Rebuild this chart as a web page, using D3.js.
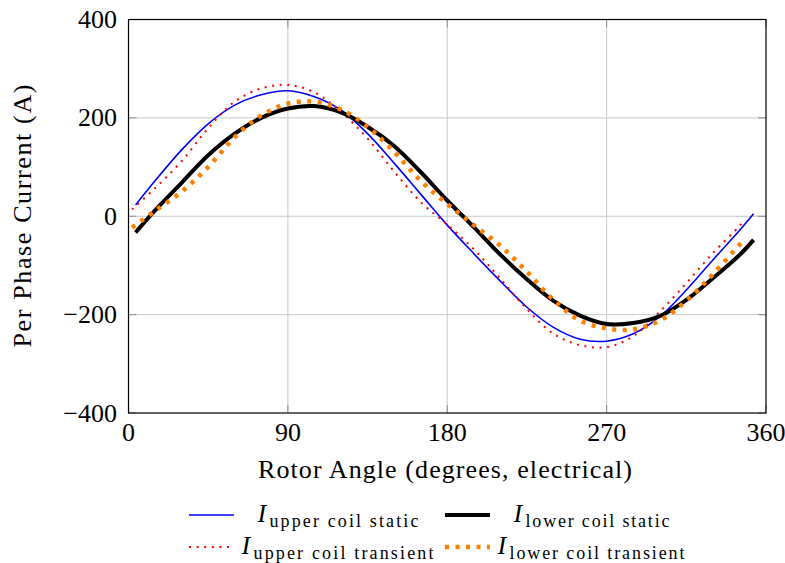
<!DOCTYPE html>
<html><head><meta charset="utf-8">
<script src="https://cdn.jsdelivr.net/npm/d3@7/dist/d3.min.js"></script>
<style>
body{margin:0;background:#fff}
svg{display:block}
</style>
</head><body>
<svg id="chart" width="785" height="563"></svg>
<script>
// ---- data ----
const staticAngles    = [4,15,30,45,60,75,90,105,120,135,150,165,180,195,210,225,240,255,270,285,300,315,330,345,353];
const upperStatic     = [23,72,135,188,226,247,255,243,216,168,108,45,-18,-76,-132,-185,-226,-250,-254,-239,-204,-150,-89,-29,5];
const lowerStatic     = [-33,12,68,124,168,200,219,224,211,182,143,90,32,-22,-78,-128,-172,-202,-219,-217,-203,-170,-126,-79,-48];
const transientAngles = [2,15,30,45,60,75,90,105,120,135,150,165,180,195,210,225,240,255,270,285,300,315,330,345,347];
const upperTransient  = [14,57,112,179,233,260,267,252,212,158,91,29,-17,-67,-127,-189,-239,-262,-266,-244,-194,-136,-75,-20,-11];
const lowerTransient  = [-23,11,50,100,161,205,229,233,217,182,131,72,25,-18,-60,-113,-170,-212,-228,-230,-212,-172,-118,-58,-51];
const xTicks = [0,90,180,270,360];
const yTicks = [-400,-200,0,200,400];
const seriesNames = ["upper coil static","lower coil static","upper coil transient","lower coil transient"];

const FONT = "'Liberation Serif', 'DejaVu Serif', serif";

const series = [
  {name: seriesNames[0], xs: staticAngles, ys: upperStatic, color: "#0000ff", width: 1.6, dash: null},
  {name: seriesNames[2], xs: transientAngles, ys: upperTransient, color: "#ff0000", width: 2, dash: "2,5.6"},
  {name: seriesNames[1], xs: staticAngles, ys: lowerStatic, color: "#000000", width: 4, dash: null},
  {name: seriesNames[3], xs: transientAngles, ys: lowerTransient, color: "#ff8000", width: 4.5, dash: "4,6.5"}
];

const svg = d3.select("#chart");
const L = 128.5, R = 766, T = 19.5, B = 413;
const x = d3.scaleLinear().domain([0,360]).range([L,R]);
const y = d3.scaleLinear().domain([-400,400]).range([B,T]);

// grid
const g = svg.append("g");
g.selectAll("line.gx").data(xTicks.slice(1,-1)).join("line")
  .attr("x1", d=>x(d)).attr("x2", d=>x(d)).attr("y1", T).attr("y2", B)
  .attr("stroke", "#c8c8c8").attr("stroke-width", 1);
g.selectAll("line.gy").data(yTicks.slice(1,-1)).join("line")
  .attr("y1", d=>y(d)).attr("y2", d=>y(d)).attr("x1", L).attr("x2", R)
  .attr("stroke", "#c8c8c8").attr("stroke-width", 1);
// ticks (inward, both sides)
const tk = 8;
g.selectAll("line.ty").data(yTicks).join("line")
  .attr("y1", d=>y(d)).attr("y2", d=>y(d)).attr("x1", L).attr("x2", L+tk)
  .attr("stroke", "#8c8c8c");
g.selectAll("line.ty2").data(yTicks).join("line")
  .attr("y1", d=>y(d)).attr("y2", d=>y(d)).attr("x1", R-tk).attr("x2", R)
  .attr("stroke", "#8c8c8c");
g.selectAll("line.tx").data(xTicks).join("line")
  .attr("x1", d=>x(d)).attr("x2", d=>x(d)).attr("y1", B).attr("y2", B-tk)
  .attr("stroke", "#8c8c8c");
g.selectAll("line.tx2").data(xTicks).join("line")
  .attr("x1", d=>x(d)).attr("x2", d=>x(d)).attr("y1", T).attr("y2", T+tk)
  .attr("stroke", "#8c8c8c");

// curves
const line = d3.line().x(d=>x(d[0])).y(d=>y(d[1])).curve(d3.curveCatmullRom.alpha(0.5));
const plot = svg.append("g");
series.forEach(s => {
  const pts = s.xs.map((a,i)=>[a, s.ys[i]]);
  const p = plot.append("path").datum(pts).attr("d", line)
    .attr("fill","none").attr("stroke", s.color).attr("stroke-width", s.width)
    .attr("stroke-linejoin","round");
  if (s.dash) p.attr("stroke-dasharray", s.dash);
});

// frame
svg.append("rect").attr("x", L).attr("y", T).attr("width", R-L).attr("height", B-T)
  .attr("fill","none").attr("stroke","#000").attr("stroke-width",1.2);

// tick labels
const fmt = d3.format("d");
svg.selectAll("text.yl").data(yTicks).join("text")
  .attr("font-family", FONT)
  .attr("x", 117).attr("y", d=>y(d)+8.5).attr("text-anchor","end")
  .attr("font-size", 26).text(d=>fmt(d));
svg.selectAll("text.xl").data(xTicks).join("text")
  .attr("font-family", FONT)
  .attr("x", d=>x(d)).attr("y", 441).attr("text-anchor","middle")
  .attr("font-size", 26).text(d=>fmt(d));

// axis titles
svg.append("text").attr("font-family", FONT).attr("x", 445).attr("y", 478).attr("text-anchor","middle")
  .attr("font-size", 26).attr("textLength", 374).attr("lengthAdjust","spacing")
  .text("Rotor Angle (degrees, electrical)");
svg.append("text").attr("font-family", FONT).attr("transform","translate(31,216) rotate(-90)").attr("text-anchor","middle")
  .attr("font-size", 26).attr("textLength", 263).attr("lengthAdjust","spacing")
  .text("Per Phase Current (A)");

// legend
const legendItems = [
  {s: series[0], lx: 189, ly: 515, ix: 257.5, iy: 522, sw: 149},
  {s: series[2], lx: 445, ly: 515, ix: 513.5, iy: 522, sw: 144},
  {s: series[1], lx: 189, ly: 547, ix: 241.5, iy: 554, sw: 180},
  {s: series[3], lx: 445, ly: 547, ix: 497.5, iy: 554, sw: 175}
];
const lg = svg.append("g");
legendItems.forEach(it => {
  const l = lg.append("line").attr("x1", it.lx).attr("x2", it.lx+45).attr("y1", it.ly).attr("y2", it.ly)
    .attr("stroke", it.s.color).attr("stroke-width", it.s.width);
  if (it.s.dash) l.attr("stroke-dasharray", it.s.dash);
  lg.append("text").attr("font-family", FONT).attr("x", it.ix).attr("y", it.iy).attr("font-size", 26)
    .attr("font-style","italic").text("I");
  lg.append("text").attr("font-family", FONT).attr("x", it.ix+12).attr("y", it.iy+5).attr("font-size", 18)
    .attr("textLength", it.sw).attr("lengthAdjust","spacing").text(it.s.name);
});
</script>
</body></html>
